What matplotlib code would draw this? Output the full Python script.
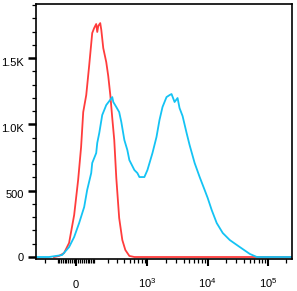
import numpy as np
import matplotlib
matplotlib.use("Agg")
import matplotlib.pyplot as plt
import matplotlib.transforms as mtransforms
from matplotlib.ticker import FixedLocator, NullFormatter

plt.rcParams['font.family'] = ['Liberation Sans', 'DejaVu Sans']
plt.rcParams['mathtext.fontset'] = 'custom'
plt.rcParams['mathtext.rm'] = 'Liberation Sans'
plt.rcParams['mathtext.it'] = 'Liberation Sans'

# Data (fluorescence intensity, event count)
red_x = [-125, -92, -63, -36, -10, 10, 25, 36, 52, 68, 86, 98, 111, 118, 125,
         139, 147, 162, 187, 205, 225, 245, 267, 291, 328, 373, 421, 494, 602,
         2000, 20000, 250000]
red_y = [0, 8, 30, 106, 317, 581, 829, 1093, 1221, 1440, 1689, 1727, 1757, 1697,
         1742, 1764, 1712, 1576, 1470, 1365, 1221, 1048, 882, 596, 294, 128, 53,
         8, 0, 0, 0, 0]

blue_x = [-291, -162, -74, -36, -10, 15, 41, 57, 80, 86, 111, 118, 132, 154, 170,
          187, 215, 245, 256, 291, 328, 358, 373, 405, 456, 494, 602, 677, 732,
          888, 999, 1212, 1415, 1587, 1782, 2078, 2333, 2519, 2829, 3172, 3422,
          3843, 4481, 5027, 6091, 7383, 8941, 10035, 11700, 14170, 17840, 23330,
          34250, 50260, 65770, 250000]
blue_y = [0, 0, 15, 75, 151, 256, 377, 505, 633, 709, 784, 860, 935, 1071, 1108,
          1146, 1176, 1206, 1169, 1131, 1093, 1018, 973, 882, 807, 731, 656, 633,
          603, 603, 656, 784, 905, 1033, 1131, 1206, 1221, 1229, 1169, 1199, 1123,
          1063, 935, 844, 709, 603, 505, 445, 354, 256, 181, 128, 75, 23, 0, 0]

y_ticks = [0, 500, 1000, 1500]
y_labels = ['0', '500', '1.0K', '1.5K']
x_ticks = [0, 1e3, 1e4, 1e5]
x_labels = ['0', r'$10^3$', r'$10^4$', r'$10^5$']

# biexponential-like display via arcsinh
W = 131.6
def fwd(x):
    return np.arcsinh(np.asarray(x, dtype=float) / W)
def inv(y):
    return W * np.sinh(np.asarray(y, dtype=float))

fig = plt.figure(figsize=(2.97, 2.91), dpi=100)
ax = fig.add_axes([36 / 297, 32 / 291, 256 / 297, 255 / 291])
ax.set_xscale('function', functions=(fwd, inv))

ax.plot(red_x, red_y, color='#ff3c3c', lw=1.3)
ax.plot(blue_x, blue_y, color='#14c3f4', lw=1.3)

ax.set_xlim(-291, 251600)
ax.set_ylim(-15, 1908)

# x ticks
minors = list(range(-300, -99, 100)) + list(range(-90, 0, 10)) + list(range(10, 100, 10))
minors += list(range(100, 1000, 100)) + list(range(2000, 10000, 1000))
minors += list(range(20000, 100000, 10000)) + [200000]
ax.xaxis.set_major_locator(FixedLocator(x_ticks))
ax.xaxis.set_minor_locator(FixedLocator(minors))
ax.xaxis.set_minor_formatter(NullFormatter())
ax.set_xticklabels(x_labels)
ax.tick_params(axis='x', which='major', length=5, width=1.5, pad=16, labelsize=8)
ax.tick_params(axis='x', which='minor', length=3, width=0.9)
for lab in ax.get_xticklabels():
    lab.set_verticalalignment('baseline')

# y ticks
ax.yaxis.set_major_locator(FixedLocator(y_ticks))
ax.yaxis.set_minor_locator(FixedLocator([v for v in range(0, 1901, 100) if v % 500]))
ax.set_yticklabels(y_labels)
ax.tick_params(axis='y', which='major', length=6, width=1.8, pad=3, labelsize=8)
ax.tick_params(axis='y', which='minor', length=3, width=0.9)
for lab in ax.get_yticklabels():
    if lab.get_text() != '0':
        lab.set_transform(lab.get_transform() +
                          mtransforms.ScaledTranslation(0, -3.5 / 100, fig.dpi_scale_trans))

for s in ax.spines.values():
    s.set_linewidth(1.2)

fig.savefig('out.png', dpi=100)
